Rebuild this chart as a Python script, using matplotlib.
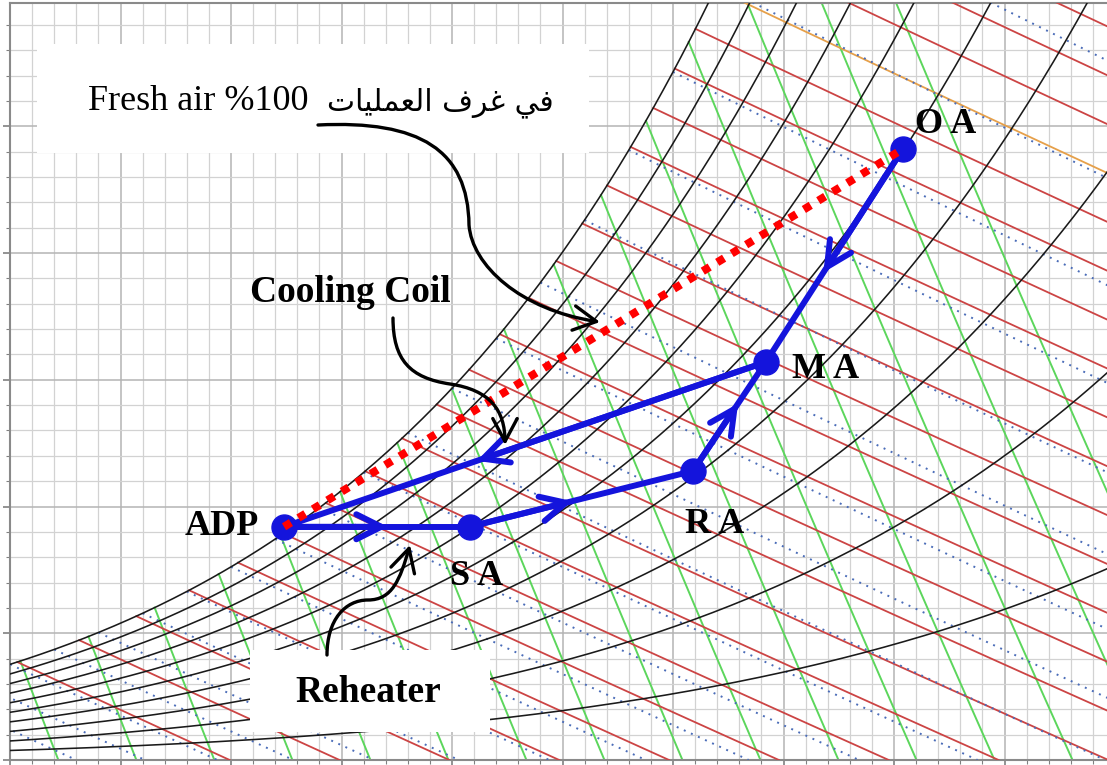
import numpy as np
import matplotlib.pyplot as plt
from matplotlib.path import Path
from matplotlib.patches import FancyArrowPatch, Rectangle

P_ATM = 101.325  # kPa

# chart line families
rh_levels = [0.1, 0.2, 0.3, 0.4, 0.5, 0.6, 0.7, 0.8, 0.9, 1.0]
enthalpy_levels = [10, 15, 20, 25, 30, 35, 40, 45, 50, 55, 60, 65, 70, 75,
                   80, 85, 90, 95, 100, 105, 110, 115, 120, 125]  # kJ/kg
volume_levels = [0.78, 0.79, 0.80, 0.81, 0.82, 0.83, 0.84, 0.85, 0.86,
                 0.87, 0.88, 0.89, 0.90, 0.91, 0.92, 0.93]  # m3/kg
wetbulb_levels = [-4, -2, 0, 2, 4, 6, 8, 10, 12, 14, 16, 18, 20, 22, 24,
                  26, 28, 30, 32, 34]  # C
highlight_h = 110

# process states: dry bulb (C), humidity ratio (g/kg)
state_labels = ['O A', 'M A', 'R A', 'S A', 'ADP']
state_tdb = [40.4, 34.2, 30.9, 20.8, 12.4]
state_w = [24.1, 15.7, 11.4, 9.2, 9.2]
# legs of the process (state indices) and arrowhead position along each leg
process_legs = [(0, 1), (1, 4), (4, 3), (3, 2), (2, 1)]
arrow_frac = [0.58, 0.60, 0.56, 0.46, 0.62]


def w_sat(t, rh=1.0):
    pws = 0.61094 * np.exp(17.625 * t / (t + 243.04))
    pw = rh * pws
    return 622.0 * pw / (P_ATM - pw)


t_fine = np.linspace(-8, 60, 3000)
w_fine = w_sat(t_fine)
h_fine = 1.006 * t_fine + w_fine / 1000 * (2501 + 1.86 * t_fine)
v_fine = 0.287042 * (t_fine + 273.15) * (1 + 1.6078 * w_fine / 1000) / P_ATM

fig = plt.figure(figsize=(11.07, 7.65), dpi=100)
ax = fig.add_axes([10 / 1107, 5 / 765, 1120 / 1107, 757 / 765])
ax.set_xlim(0, 1120 / 22.1)
ax.set_ylim(0, 757 / 25.35)

# grid
ax.set_xticks(np.arange(0, 51, 5))
ax.set_xticks(np.arange(0, 51, 1), minor=True)
ax.set_yticks(np.arange(0, 30, 5))
ax.set_yticks(np.arange(0, 30, 1), minor=True)
ax.grid(which='minor', color='#d2d2d2', lw=0.9)
ax.grid(which='major', color='#b4b4b4', lw=1.1)
ax.set_axisbelow(True)
ax.tick_params(which='both', direction='out', colors='#808080',
               labelleft=False, labelbottom=False)
ax.tick_params(which='major', length=5, width=1.2)
ax.tick_params(which='minor', length=3, width=0.8)
for s in ax.spines.values():
    s.set_color('#8a8a8a')
    s.set_linewidth(1.5)

# specific volume lines (green)
for v in volume_levels:
    t0 = np.interp(v, v_fine, t_fine)
    t1 = v * P_ATM / 0.287042 - 273.15
    t = np.linspace(t0, t1, 60)
    w = (v * P_ATM / (0.287042 * (t + 273.15)) - 1) / 1.6078 * 1000
    ax.plot(t, w, color='#5cd65c', lw=1.4, zorder=2)

# enthalpy lines (red)
for h in enthalpy_levels:
    t0 = np.interp(h, h_fine, t_fine)
    t1 = h / 1.006
    t = np.linspace(t0, t1, 60)
    w = 1000 * (h - 1.006 * t) / (2501 + 1.86 * t)
    c = '#e6a04a' if h == highlight_h else '#cc4444'
    ax.plot(t, w, color=c, lw=1.3, zorder=3)

# wet bulb lines (blue dotted)
for twb in wetbulb_levels:
    ws = w_sat(twb) / 1000
    t1 = twb + (2501 - 2.326 * twb) * ws / 1.006
    t = np.linspace(twb, t1, 60)
    w = ((2501 - 2.326 * twb) * ws - 1.006 * (t - twb)) / \
        (2501 + 1.86 * t - 4.186 * twb) * 1000
    ax.plot(t, w, color='#4a6cb8', lw=1.4, ls=(0, (1, 3)), zorder=3)

# relative humidity curves (black)
t_rh = np.linspace(-1, 52, 400)
for rh in rh_levels:
    ax.plot(t_rh, w_sat(t_rh, rh), color='#1a1a1a', lw=1.15, zorder=4)

# white boxes behind annotations
ax.add_patch(Rectangle((1.22, 23.94), 25.0, 4.3, facecolor='white',
                       edgecolor='none', zorder=6))
ax.add_patch(Rectangle((10.86, 1.10), 10.86, 3.24, facecolor='white',
                       edgecolor='none', zorder=6))

# process lines
blue = '#1414dc'
for (a, b), f in zip(process_legs, arrow_frac):
    xa, ya = state_tdb[a], state_w[a]
    xb, yb = state_tdb[b], state_w[b]
    ax.plot([xa, xb], [ya, yb], color=blue, lw=4.3, solid_capstyle='round',
            zorder=8)
    tip = (xa + f * (xb - xa), ya + f * (yb - ya))
    ax.annotate('', xy=tip, xytext=(xa, ya),
                arrowprops=dict(arrowstyle='->,head_length=0.9,head_width=0.45',
                                color=blue, lw=4.3, shrinkA=0, shrinkB=0,
                                mutation_scale=20), zorder=8)
ax.plot(state_tdb, state_w, 'o', color=blue, ms=18, zorder=9)

# fresh air dotted line ADP -> OA
ax.plot([state_tdb[4], state_tdb[0]], [state_w[4], state_w[0]], color='#ff0000',
        lw=5.8, ls=(0, (1, 1.1)), dash_capstyle='butt', zorder=10)

# state labels
label_pos = [(40.95, 24.73), (35.38, 15.07), (30.54, 8.95), (19.9, 6.9),
             (7.92, 8.88)]
for txt, (x, y) in zip(state_labels, label_pos):
    ax.text(x, y, txt, fontsize=26, fontweight='bold', family='Liberation Serif',
            ha='left', va='baseline', zorder=11)

ax.text(10.86, 18.07, 'Cooling Coil', fontsize=27, fontweight='bold',
        family='Liberation Serif', ha='left', va='baseline', zorder=11)
ax.text(12.9, 2.29, 'Reheater', fontsize=27, fontweight='bold',
        family='Liberation Serif', ha='left', va='baseline', zorder=11)

arabic = ('\uFE95\uFE8E\uFEF4\uFEE0\uFEE4\uFECC\uFEDF\uFE8D' + ' ' +
          '\uFED1\uFEAE\uFECF' + ' ' + '\uFEF2\uFED3')
ax.text(3.53, 25.64, 'Fresh air %100', fontsize=26,
        family='Liberation Serif', ha='left', va='baseline', zorder=11)
ax.text(14.34, 25.64, arabic, fontsize=21.5,
        family=['DejaVu Sans'], ha='left', va='baseline', zorder=11)


# curved pointer arrows (pixel sketch converted to data units)
def px(x, y):
    return ((x - 10) / 22.1, (760 - y) / 25.35)


curves = [
    [(318, 125), (420, 120), (468, 150), (469, 225), (472, 265), (520, 310), (600, 322)],
    [(393, 318), (393, 360), (410, 378), (450, 384), (490, 390), (505, 410), (505, 445)],
    [(327, 655), (327, 620), (345, 600), (368, 600), (392, 600), (400, 580), (410, 545)],
]
codes = [Path.MOVETO] + [Path.CURVE4] * 6
for pts in curves:
    path = Path([px(*p) for p in pts], codes)
    arr = FancyArrowPatch(path=path, arrowstyle='->,head_length=0.75,head_width=0.4',
                          mutation_scale=22, color='black', lw=2.4, zorder=11,
                          transform=ax.transData)
    ax.add_patch(arr)

fig.savefig('out.png', dpi=100)
